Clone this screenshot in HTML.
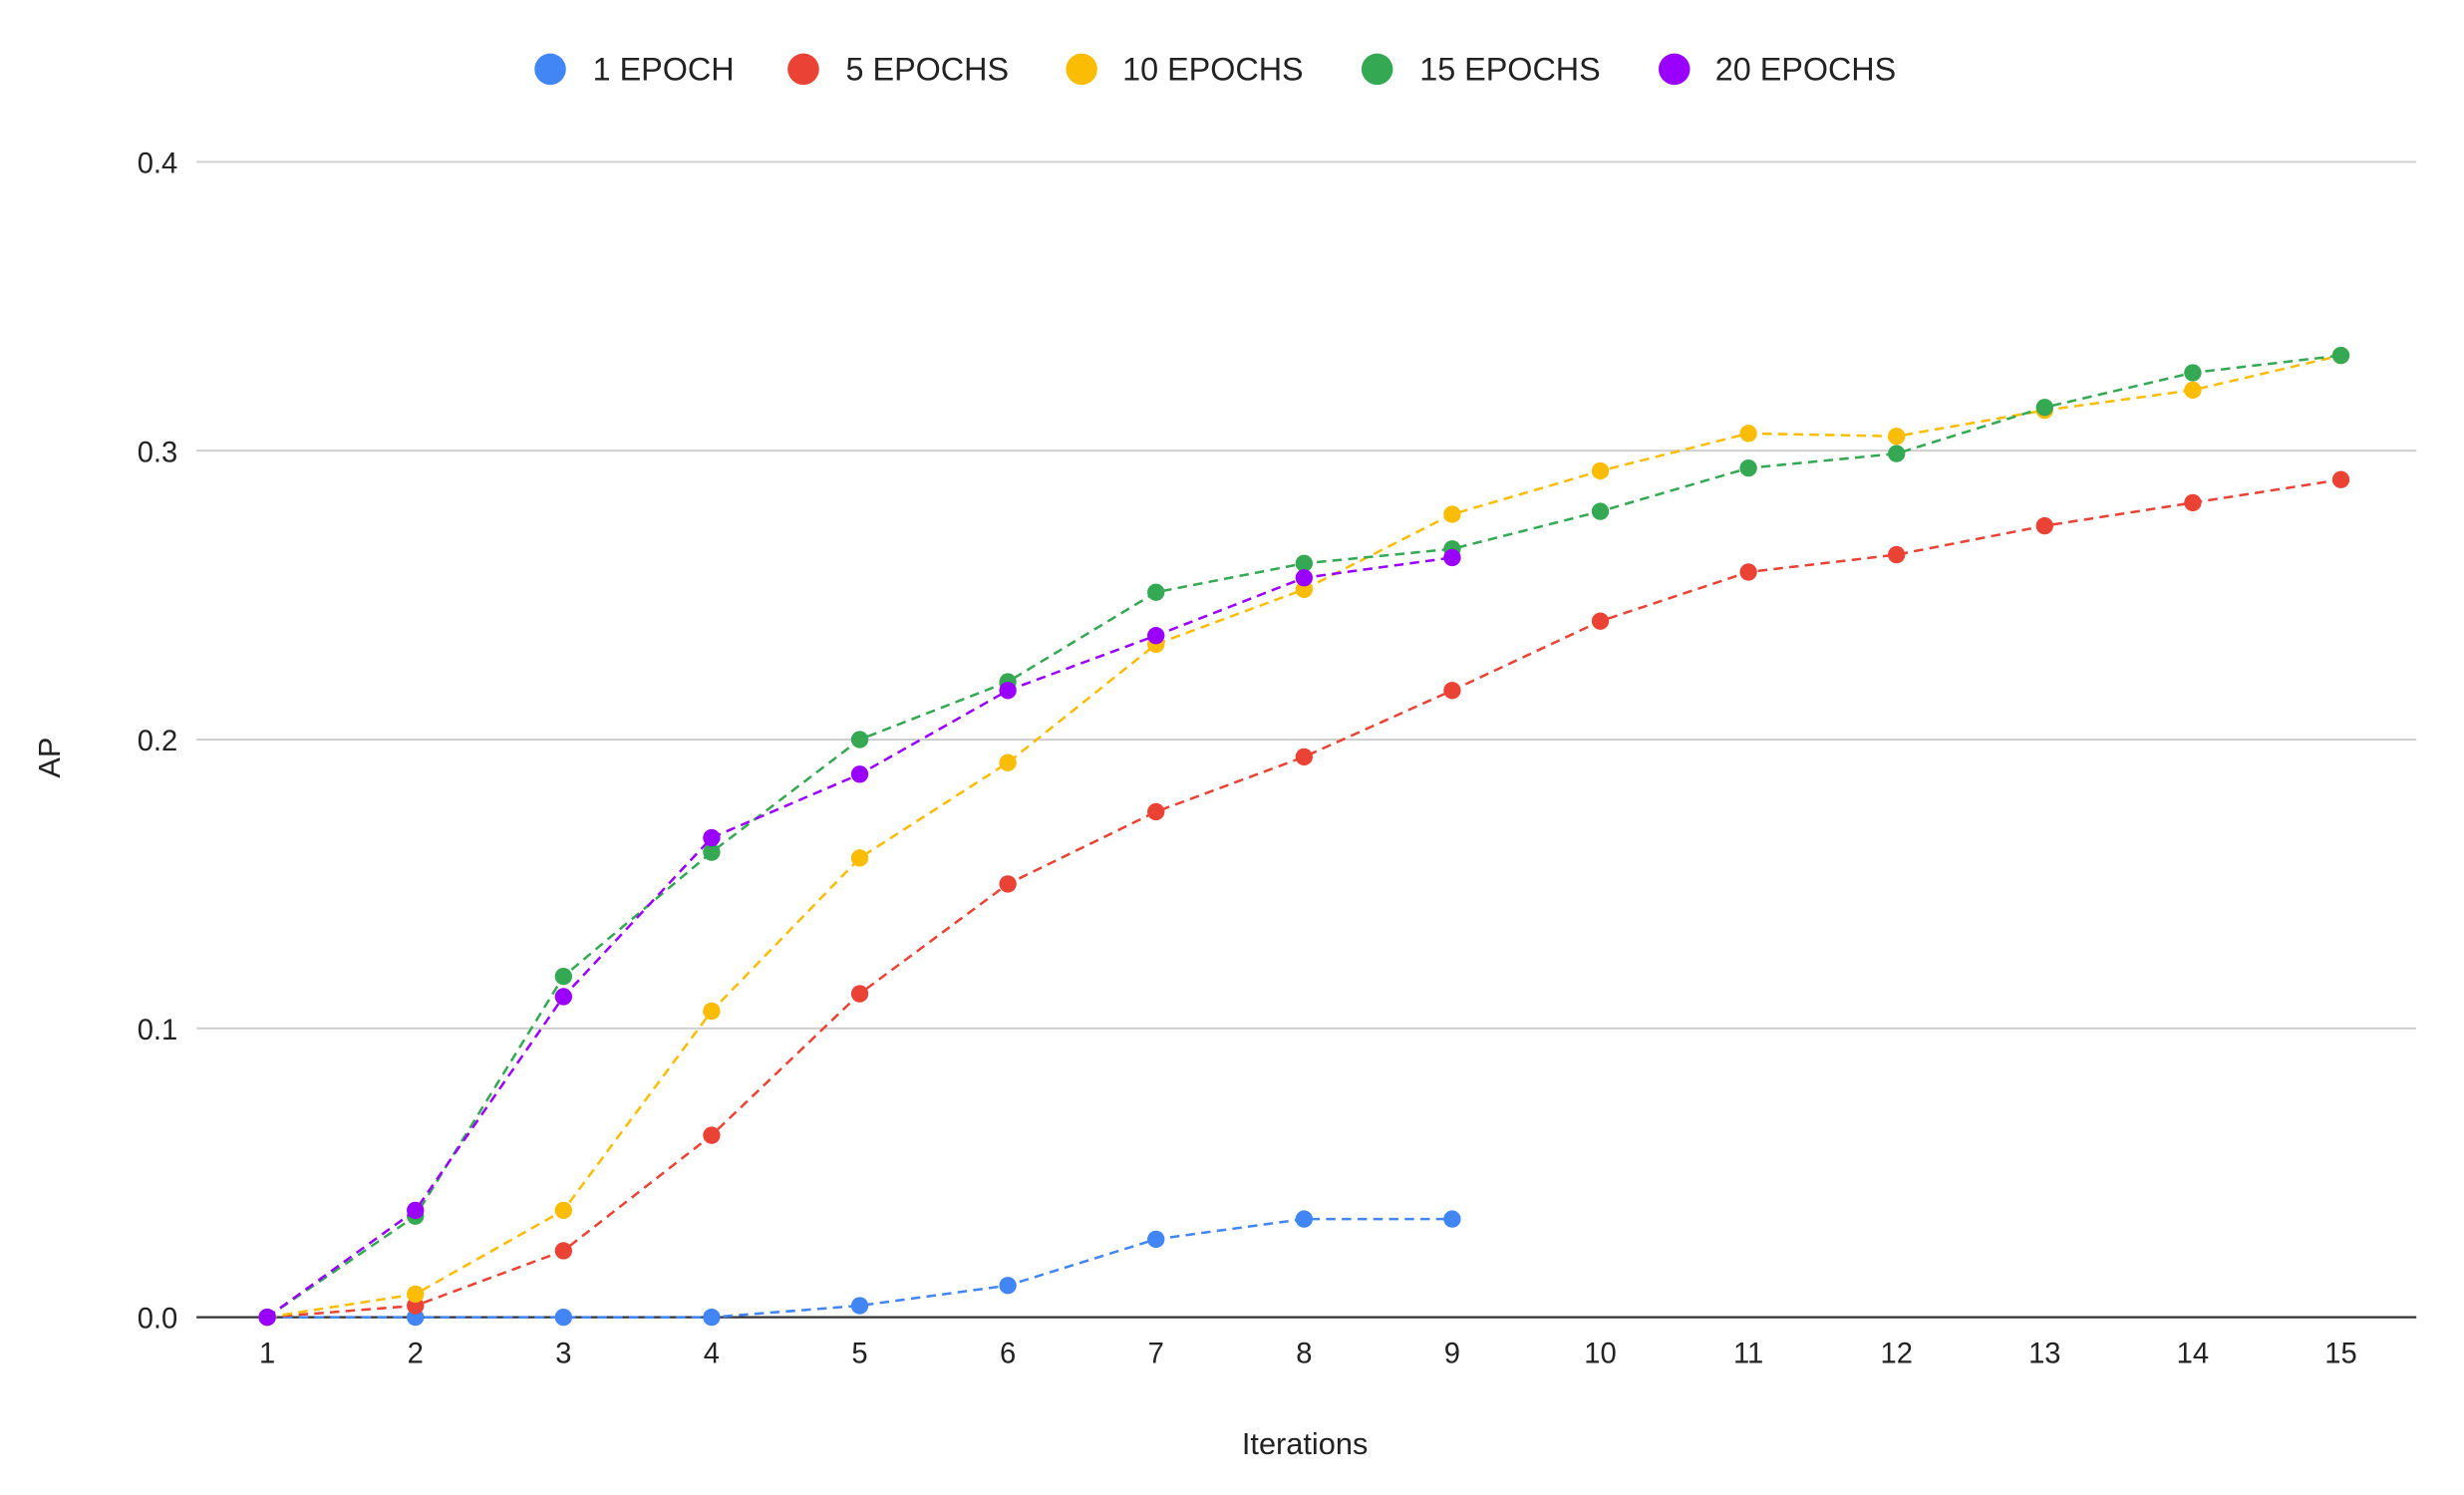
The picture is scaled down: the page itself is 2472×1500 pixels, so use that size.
<!DOCTYPE html>
<html><head><meta charset="utf-8"><style>
html,body{margin:0;padding:0;background:#fff;}
svg{display:block;}
text{font-family:"Liberation Sans",Arial,sans-serif;fill:#222;}
</style></head><body>
<svg id="c" width="2472" height="1500" viewBox="0 0 1567.3 951.1" preserveAspectRatio="none" xmlns="http://www.w3.org/2000/svg">
<g id="grid"></g>
<g id="series"></g>
<g font-size="20.5">
<circle cx="350" cy="44" r="10" fill="#4285f4"/><text x="377" y="51">1 EPOCH</text>
<circle cx="511" cy="44" r="10" fill="#ea4335"/><text x="538" y="51">5 EPOCHS</text>
<circle cx="688" cy="44" r="10" fill="#fbbc04"/><text x="714" y="51">10 EPOCHS</text>
<circle cx="876" cy="44" r="10" fill="#34a853"/><text x="903" y="51">15 EPOCHS</text>
<circle cx="1065" cy="44" r="10" fill="#9900ff"/><text x="1091" y="51">20 EPOCHS</text>
<text x="830" y="925" text-anchor="middle" font-size="19.5">Iterations</text>
<text transform="translate(38,482) rotate(-90)" text-anchor="middle" font-size="19.5">AP</text>
</g>
</svg>
<script>
const NS="http://www.w3.org/2000/svg";
const g=document.getElementById('grid'),s=document.getElementById('series');
function el(p,t,a,txt){const e=document.createElementNS(NS,t);for(const k in a)e.setAttribute(k,a[k]);if(txt!==undefined)e.textContent=txt;p.appendChild(e);return e;}
const X=i=>170+(i-1)*(1489-170)/14, Y=v=>838-v*1837.5;
for(let k=1;k<=4;k++){const y=Y(k/10);el(g,'line',{x1:125,x2:1537,y1:y,y2:y,stroke:'#ccc','stroke-width':1.2});
el(g,'text',{x:113,y:y+7,'text-anchor':'end','font-size':18.5},(k/10).toFixed(1));}
el(g,'text',{x:113,y:845,'text-anchor':'end','font-size':18.5},'0.0');
for(let i=1;i<=15;i++)el(g,'text',{x:X(i),y:867,'text-anchor':'middle','font-size':18.5},i);
const data=[
['#4285f4',[0,0,0,0,0.004,0.011,0.027,0.034,0.034]],
['#ea4335',[0,0.004,0.023,0.063,0.112,0.150,0.175,0.194,0.217,0.241,0.258,0.264,0.274,0.282,0.290]],
['#fbbc04',[0,0.008,0.037,0.106,0.159,0.192,0.233,0.252,0.278,0.293,0.306,0.305,0.314,0.321,0.333]],
['#34a853',[0,0.035,0.118,0.161,0.200,0.220,0.251,0.261,0.266,0.279,0.294,0.299,0.315,0.327,0.333]],
['#9900ff',[0,0.037,0.111,0.166,0.188,0.217,0.236,0.256,0.263]]];
el(g,'line',{x1:125,x2:1537,y1:838,y2:838,stroke:'#333','stroke-width':1.5});
for(const [c,d] of data){
 el(s,'polyline',{points:d.map((v,i)=>X(i+1)+','+Y(v)).join(' '),fill:'none',stroke:c,'stroke-width':1.6,'stroke-dasharray':'6 4'});
 d.forEach((v,i)=>el(s,'circle',{cx:X(i+1),cy:Y(v),r:5.5,fill:c}));
}
</script>
</body></html>
